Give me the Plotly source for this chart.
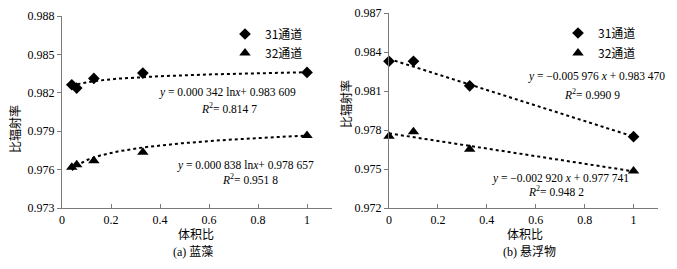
import numpy as np
import plotly.graph_objects as go

# ---------------- data ----------------
x_a = [0.04, 0.06, 0.13, 0.33, 1.0]
y_a31 = [0.98263, 0.98237, 0.98312, 0.98354, 0.98359]
y_a32 = [0.97618, 0.97637, 0.97670, 0.97735, 0.97866]

x_b = [0.0, 0.1, 0.33, 1.0]
y_b31 = [0.98329, 0.98329, 0.98140, 0.97749]
y_b32 = [0.97751, 0.97786, 0.97652, 0.97484]

# fitted trend coefficients (as printed on the chart)
fit_a31 = (0.000342, 0.983609)   # y = a ln x + b
fit_a32 = (0.000838, 0.978657)
fit_b31 = (-0.005976, 0.983470)  # y = a x + b
fit_b32 = (-0.002920, 0.977741)

series_names = ["31通道", "32通道"]
yticks_a = [0.973, 0.976, 0.979, 0.982, 0.985, 0.988]
yticks_b = [0.972, 0.975, 0.978, 0.981, 0.984, 0.987]
xticks = [0, 0.2, 0.4, 0.6, 0.8, 1]

W, H = 677, 269
SERIF = "Liberation Serif, Times New Roman, Noto Sans CJK SC, serif"
CJK = "Noto Sans CJK SC, sans-serif"

def px(xp):
    return xp / W

def py(yp):
    return 1 - yp / H

fig = go.Figure()

# trend lines
xa_line = np.linspace(min(x_a), max(x_a), 200)
xb_line = np.linspace(min(x_b), max(x_b), 50)
line_style = dict(color="black", width=2, dash="dot")
for (a, b) in (fit_a31, fit_a32):
    fig.add_trace(go.Scatter(x=xa_line, y=a * np.log(xa_line) + b, mode="lines",
                             line=line_style, showlegend=False, hoverinfo="skip",
                             cliponaxis=False, xaxis="x", yaxis="y"))
for (a, b) in (fit_b31, fit_b32):
    fig.add_trace(go.Scatter(x=xb_line, y=a * xb_line + b, mode="lines",
                             line=line_style, showlegend=False, hoverinfo="skip",
                             cliponaxis=False, xaxis="x2", yaxis="y2"))

m31 = dict(symbol="diamond", size=9, color="black")
m32 = dict(symbol="triangle-up", size=10, color="black")

fig.add_trace(go.Scatter(x=x_a, y=y_a31, mode="markers", marker=m31, name=series_names[0],
                         cliponaxis=False, xaxis="x", yaxis="y", legend="legend"))
fig.add_trace(go.Scatter(x=x_a, y=y_a32, mode="markers", marker=m32, name=series_names[1],
                         cliponaxis=False, xaxis="x", yaxis="y", legend="legend2"))
fig.add_trace(go.Scatter(x=x_b, y=y_b31, mode="markers", marker=m31, name=series_names[0],
                         cliponaxis=False, xaxis="x2", yaxis="y2", legend="legend3"))
fig.add_trace(go.Scatter(x=x_b, y=y_b32, mode="markers", marker=m32, name=series_names[1],
                         cliponaxis=False, xaxis="x2", yaxis="y2", legend="legend4"))

axis_common = dict(showgrid=False, zeroline=False, showline=True, linecolor="#7a7a7a",
                   linewidth=1.2, tickcolor="#7a7a7a", automargin=False,
                   tickfont=dict(family=SERIF, size=12, color="black"))

xdom_a = [px(62), px(332)]
xdom_b = [px(389), px(658)]
ydom_a = [py(208), py(16)]
ydom_b = [py(208), py(13)]

def legend_at(marker_x, center_y):
    return dict(x=px(marker_x - 20), y=py(center_y), xanchor="left", yanchor="middle",
                bgcolor="rgba(0,0,0,0)", borderwidth=0,
                font=dict(family=CJK, size=12, color="black"), itemwidth=30)

fig.update_layout(
    width=W, height=H, autosize=False,
    margin=dict(l=0, r=0, t=0, b=0, pad=0, autoexpand=False),
    paper_bgcolor="white", plot_bgcolor="white",
    xaxis=dict(domain=xdom_a, range=[0, 1.102], tickvals=xticks, ticks="inside", ticklen=4,
               anchor="y", **axis_common),
    yaxis=dict(domain=ydom_a, range=[0.973, 0.988], tickvals=yticks_a, tickformat=".3f",
               ticks="outside", ticklen=4, anchor="x", **axis_common),
    xaxis2=dict(domain=xdom_b, range=[0, 1.10], tickvals=xticks, ticks="inside", ticklen=4,
                anchor="y2", **axis_common),
    yaxis2=dict(domain=ydom_b, range=[0.972, 0.987], tickvals=yticks_b, tickformat=".3f",
                ticks="outside", ticklen=4, anchor="x2", **axis_common),
    legend=legend_at(245, 34),
    legend2=legend_at(245, 53),
    legend3=legend_at(578, 33),
    legend4=legend_at(578, 53),
    showlegend=True,
)

def ann(text, xp, yp, size=12, family=SERIF, angle=0):
    fig.add_annotation(text=text, x=px(xp), y=py(yp), xref="paper", yref="paper",
                       showarrow=False, xanchor="center", yanchor="middle", textangle=angle,
                       font=dict(family=family, size=size, color="black"))

EQ = 11.5
ann("<i>y</i> = 0.000 342 ln<i>x</i>+ 0.983 609", 227, 92, EQ)
ann("<i>R</i><sup>2</sup>= 0.814 7", 229, 108, EQ)
ann("<i>y</i> = 0.000 838 ln<i>x</i>+ 0.978 657", 245, 165, EQ)
ann("<i>R</i><sup>2</sup>= 0.951 8", 250, 179, EQ)
ann("<i>y</i> = −0.005 976 <i>x</i> + 0.983 470", 596, 77, EQ)
ann("<i>R</i><sup>2</sup>= 0.990 9", 592, 94, EQ)
ann("<i>y</i> = −0.002 920 <i>x</i> + 0.977 741", 560, 178, EQ)
ann("<i>R</i><sup>2</sup>= 0.948 2", 556, 191, EQ)

ann("体积比", 196, 233, size=12, family=CJK)
ann("体积比", 525, 233, size=12, family=CJK)
ann("(a) 蓝藻", 193, 252, size=12, family=SERIF)
ann("(b) 悬浮物", 529, 252, size=12, family=SERIF)
ann("比辐射率", 14, 129, size=12, family=CJK, angle=-90)
ann("比辐射率", 345, 104, size=12, family=CJK, angle=-90)

fig.write_html("out.html", config={"displayModeBar": False},
               post_script="document.body.style.margin='0';")
